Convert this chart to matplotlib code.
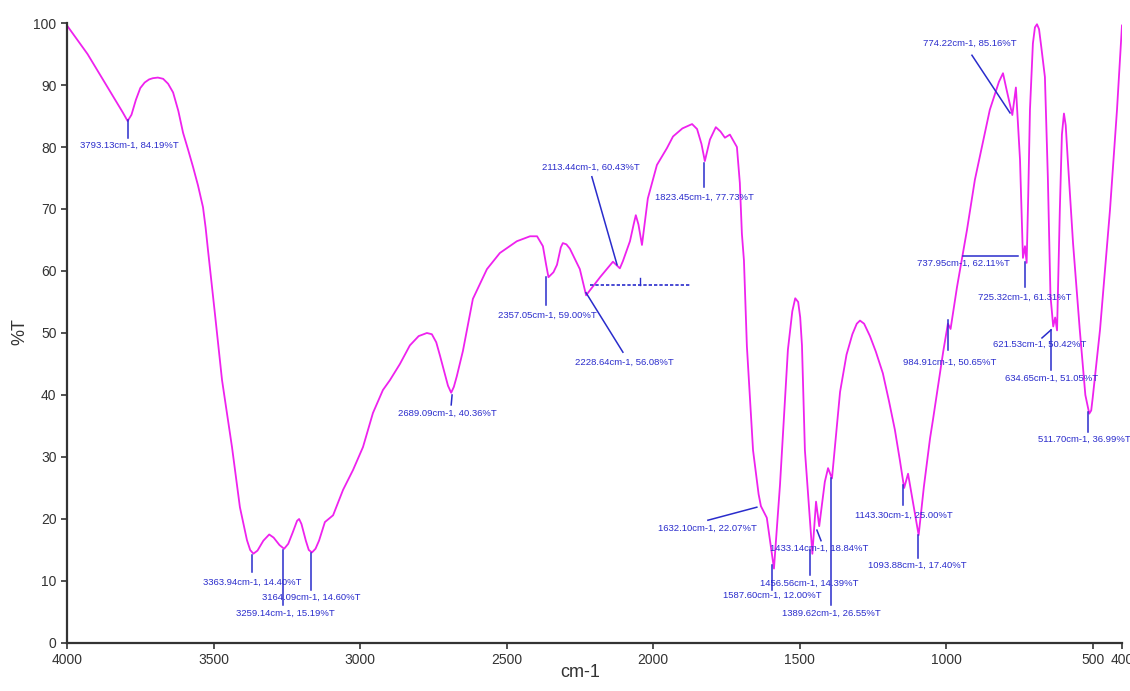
import matplotlib
matplotlib.use("Agg")
import matplotlib.pyplot as plt

plt.rcParams["font.family"] = ["Liberation Sans", "DejaVu Sans"]

# FTIR spectrum
wavenumber = [4000, 3930, 3860, 3810, 3793.13, 3780, 3765, 3750, 3735, 3720, 3707, 3690,
              3672, 3655, 3638, 3620, 3604, 3587, 3570, 3553, 3536, 3527, 3519, 3507,
              3495, 3471, 3437, 3410, 3386, 3375, 3363.94, 3350, 3330, 3310, 3295, 3275,
              3259.14, 3245, 3230, 3215, 3208, 3200, 3185, 3175, 3164.09, 3152, 3140, 3120,
              3092, 3058, 3024, 2990, 2956, 2922, 2898, 2864, 2830, 2800, 2772, 2755, 2740,
              2727, 2712, 2700, 2689.09, 2680, 2670, 2649, 2615, 2567, 2523, 2465, 2420,
              2396, 2376, 2365, 2357.05, 2340, 2328, 2315, 2308, 2296, 2284, 2250, 2228.64,
              2181, 2137, 2113.44, 2103, 2079, 2066, 2059, 2050, 2038, 2018, 1987, 1953,
              1932, 1900, 1867, 1850, 1835, 1823.45, 1806, 1786, 1770, 1755, 1738, 1714,
              1704, 1697, 1690, 1680, 1659, 1640, 1632.10, 1612, 1587.60, 1567, 1540, 1525,
              1515, 1505, 1498, 1492, 1482, 1456.56, 1444, 1433.14, 1414, 1403, 1389.62,
              1362, 1340, 1320, 1305, 1294, 1280, 1260, 1240, 1216, 1195, 1175, 1158,
              1143.30, 1130, 1093.88, 1076, 1055, 1045, 1010, 994, 984.91, 963, 929, 902,
              851, 820, 806, 795, 774.22, 762, 748, 737.95, 731, 725.32, 720, 714, 704, 697,
              690, 683, 675, 663, 653, 644, 634.65, 628, 621.53, 612, 605, 598, 592, 585,
              567, 544, 525, 511.70, 505, 500, 475, 441, 417, 400]
transmittance = [99.6, 95.0, 89.5, 85.6, 84.19, 85.2, 87.6, 89.5, 90.4, 90.9, 91.1, 91.2,
                 91.0, 90.2, 88.8, 85.8, 82.3, 79.6, 76.8, 73.8, 70.3, 67.0, 63.4, 58.2,
                 53.0, 42.4, 31.6, 21.9, 16.6, 15.0, 14.40, 14.9, 16.5, 17.5, 17.0, 15.8,
                 15.19, 16.0, 17.8, 19.7, 20.0, 19.2, 16.5, 15.0, 14.60, 15.2, 16.5, 19.5,
                 20.6, 24.7, 27.9, 31.6, 37.1, 40.8, 42.4, 45.0, 48.0, 49.5, 50.0, 49.8, 48.5,
                 46.3, 43.6, 41.5, 40.36, 41.3, 43.0, 47.1, 55.5, 60.3, 62.9, 64.8, 65.6,
                 65.6, 64.0, 61.0, 59.00, 59.8, 61.0, 63.8, 64.5, 64.3, 63.6, 60.3, 56.08,
                 59.0, 61.5, 60.43, 61.6, 64.8, 67.6, 69.0, 67.5, 64.2, 71.7, 77.1, 79.8,
                 81.7, 83.0, 83.7, 82.9, 80.5, 77.73, 81.2, 83.2, 82.5, 81.5, 82.0, 80.0,
                 74.2, 66.0, 61.7, 47.9, 31.1, 24.0, 22.07, 20.2, 12.00, 25.5, 47.3, 53.5,
                 55.6, 55.0, 52.5, 48.0, 31.1, 14.39, 22.8, 18.84, 26.0, 28.2, 26.55,
                 40.5, 46.5, 49.8, 51.5, 52.0, 51.5, 49.5, 47.0, 43.5, 39.0, 34.4, 29.5,
                 25.00, 27.3, 17.40, 25.2, 33.0, 36.0, 47.0, 51.5, 50.65, 57.4, 66.6, 74.7,
                 86.0, 90.5, 91.9, 89.5, 85.16, 89.6, 78.0, 62.11, 64.0, 61.31, 72.0, 86.0,
                 96.7, 99.3, 99.8, 99.0, 96.0, 91.3, 75.2, 56.0, 51.05, 52.5, 50.42, 70.0,
                 82.0, 85.4, 83.5, 78.0, 64.5, 50.5, 40.0, 36.99, 37.5, 39.5, 50.5, 69.8,
                 86.0, 99.6]

# peak labels: text, text position, leader line
labels = ["3793.13cm-1, 84.19%T", "2113.44cm-1, 60.43%T", "1823.45cm-1, 77.73%T",
          "2357.05cm-1, 59.00%T", "2228.64cm-1, 56.08%T", "774.22cm-1, 85.16%T",
          "737.95cm-1, 62.11%T", "725.32cm-1, 61.31%T", "984.91cm-1, 50.65%T",
          "621.53cm-1, 50.42%T", "634.65cm-1, 51.05%T", "511.70cm-1, 36.99%T",
          "2689.09cm-1, 40.36%T", "3363.94cm-1, 14.40%T", "3164.09cm-1, 14.60%T",
          "3259.14cm-1, 15.19%T", "1632.10cm-1, 22.07%T", "1433.14cm-1, 18.84%T",
          "1456.56cm-1, 14.39%T", "1587.60cm-1, 12.00%T", "1389.62cm-1, 26.55%T",
          "1143.30cm-1, 25.00%T", "1093.88cm-1, 17.40%T"]
label_xy = [(3956, 80.2), (2379, 76.8), (1994, 71.9), (2529, 52.9), (2267, 45.3),
            (1079, 96.8), (1100, 61.3), (892, 55.8), (1148, 45.2), (840, 48.1),
            (800, 42.7), (685, 32.9), (2871, 37.1), (3536, 9.8), (3335, 7.3),
            (3423, 4.8), (1984, 18.5), (1601, 15.3), (1635, 9.7), (1762, 7.7),
            (1560, 4.8), (1311, 20.6), (1267, 12.6)]
leaders = [((3792, 3792), (84.4, 81.5)), ((2209, 2123), (75.2, 61.0)),
           ((1827, 1827), (77.4, 73.5)), ((2366, 2366), (59.0, 54.5)),
           ((2229, 2103), (56.5, 46.9)), ((912, 782), (94.8, 85.5)),
           ((943, 755), (62.4, 62.4)), ((731, 731), (61.5, 57.4)),
           ((994, 994), (52.1, 47.3)), ((673, 642), (49.2, 50.5)),
           ((642, 642), (50.5, 44.0)), ((516, 516), (37.3, 34.0)),
           ((2686, 2689), (40.0, 38.4)), ((3369, 3369), (14.2, 11.5)),
           ((3167, 3167), (14.5, 8.5)), ((3263, 3263), (15.0, 6.1)),
           ((1813, 1646), (19.8, 21.9)), ((1441, 1427), (18.2, 16.5)),
           ((1465, 1465), (15.0, 11.0)), ((1595, 1595), (12.6, 8.5)),
           ((1393, 1393), (26.6, 6.1)), ((1148, 1148), (25.5, 22.3)),
           ((1096, 1096), (17.4, 13.7))]

xticks = [4000, 3500, 3000, 2500, 2000, 1500, 1000, 500, 400]
yticks = list(range(0, 101, 10))

blue = "#2a2ccc"

fig = plt.figure(figsize=(11.3, 6.91), dpi=100)
ax = fig.add_axes([0.0593, 0.0695, 0.9336, 0.8972])
ax.plot(wavenumber, transmittance, color="#ee22ee", lw=1.3, solid_joinstyle="round")

for txt, (tx, ty), (lx, ly) in zip(labels, label_xy, leaders):
    ax.plot(lx, ly, color=blue, lw=1.1)
    ax.text(tx, ty, txt, color=blue, fontsize=6.8, ha="left", va="center")

# garbled overlapping label drawn as a dotted trace
ax.plot([2216, 1874], [57.7, 57.7], color=blue, lw=1.2, ls=(0, (2, 1.2)))
ax.plot([2045, 2045], [57.7, 58.9], color=blue, lw=1.0)

ax.set_xlim(4000, 400)
ax.set_ylim(0, 100)
ax.set_xticks(xticks)
ax.set_xticklabels([str(t) for t in xticks])
ax.set_yticks(yticks)
ax.tick_params(labelsize=10, length=4, width=1.2, colors="#333333")
for s in ["top", "right"]:
    ax.spines[s].set_visible(False)
for s in ["left", "bottom"]:
    ax.spines[s].set_linewidth(1.6)
    ax.spines[s].set_color("#333333")

fig.text(0.513, 0.014, "cm-1", fontsize=13, color="#333333", ha="center", va="bottom")
fig.text(0.018, 0.52, "%T", fontsize=13, color="#333333", rotation=90, ha="center", va="center")

fig.savefig("out.png", dpi=100)
